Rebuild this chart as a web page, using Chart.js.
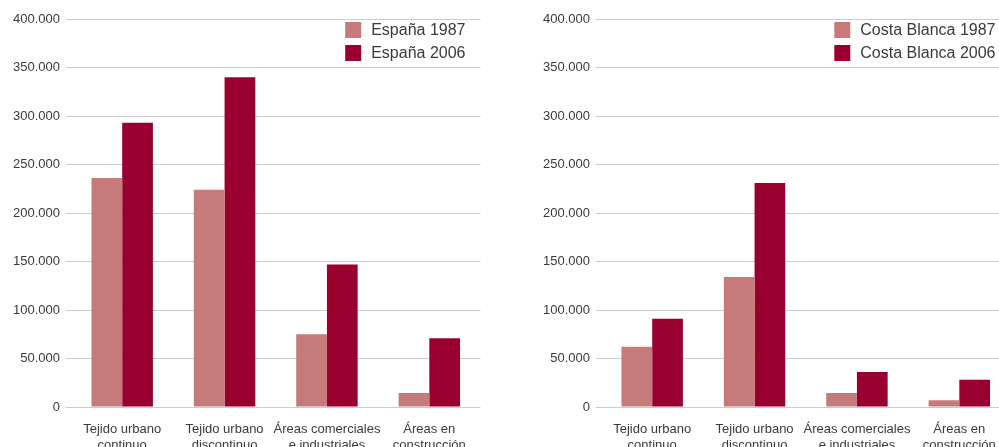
<!DOCTYPE html>
<html lang="es">
<head>
<meta charset="utf-8">
<script src="https://cdn.jsdelivr.net/npm/chart.js@4/dist/chart.umd.min.js"></script>
<style>
    html, body { margin: 0; padding: 0; background: #fff; overflow: hidden; }
    body { width: 999px; height: 447px; position: relative; }
    .panel { position: absolute; top: 0; width: 490px; height: 447px; }
    #panelEspana { left: 0; }
    #panelCosta { left: 530px; }
</style>
</head>
<body>
<div class="panel" id="panelEspana"><canvas id="chartEspana"></canvas></div>
<div class="panel" id="panelCosta"><canvas id="chartCosta"></canvas></div>
<script>
// Categorías (etiquetas del eje X, en dos líneas)
const categorias = [
    ['Tejido urbano', 'continuo'],
    ['Tejido urbano', 'discontinuo'],
    ['Áreas comerciales', 'e industriales'],
    ['Áreas en', 'construcción']
];

// Valores
const espana1987 = [236000, 224000, 75000, 14500];
const espana2006 = [293000, 340000, 147000, 71000];
const costa1987 = [62000, 134000, 14500, 7000];
const costa2006 = [91000, 231000, 36000, 28000];

// Escala del eje Y
const ejeMin = 0;
const ejeMax = 400000;
const ejePaso = 50000;

const color1987 = '#C67B7A';
const color2006 = '#990030';
const colorTexto = '#3a3a3a';
const fuente = '"Liberation Sans", Arial, sans-serif';

// Leyenda dibujada dentro del área del gráfico, arriba a la derecha
const leyendaInterna = {
    id: 'leyendaInterna',
    afterDraw(chart) {
        const ctx = chart.ctx;
        const area = chart.chartArea;
        const sets = chart.data.datasets;
        ctx.save();
        ctx.font = '16px ' + fuente;
        let maxAncho = 0;
        sets.forEach(function(ds) {
            maxAncho = Math.max(maxAncho, ctx.measureText(ds.label).width);
        });
        const x = area.right - 15 - maxAncho - 26;
        sets.forEach(function(ds, i) {
            const y = 22 + i * 23;
            ctx.fillStyle = ds.backgroundColor;
            ctx.fillRect(x, y, 16, 16);
            ctx.fillStyle = colorTexto;
            ctx.textBaseline = 'middle';
            ctx.textAlign = 'left';
            ctx.fillText(ds.label, x + 26, y + 8.5);
        });
        ctx.restore();
    }
};

function crearGrafico(idCanvas, etiqueta1987, datos1987, etiqueta2006, datos2006) {
    const ctx = document.getElementById(idCanvas).getContext('2d');
    return new Chart(ctx, {
        type: 'bar',
        data: {
            labels: categorias,
            datasets: [{
                label: etiqueta1987,
                data: datos1987,
                backgroundColor: color1987,
                borderWidth: 0
            }, {
                label: etiqueta2006,
                data: datos2006,
                backgroundColor: color2006,
                borderWidth: 0
            }]
        },
        options: {
            responsive: true,
            maintainAspectRatio: false,
            animation: false,
            layout: {
                padding: { top: 19, right: 9.5, bottom: 0, left: 0 }
            },
            datasets: {
                bar: {
                    categoryPercentage: 0.6,
                    barPercentage: 1.0
                }
            },
            plugins: {
                legend: { display: false },
                tooltip: { enabled: false }
            },
            scales: {
                x: {
                    grid: { display: false },
                    border: { display: false },
                    ticks: {
                        color: colorTexto,
                        font: { family: fuente, size: 13 },
                        padding: 7,
                        maxRotation: 0,
                        autoSkip: false
                    },
                    afterFit: function(scale) { scale.height = 40; }
                },
                y: {
                    min: ejeMin,
                    max: ejeMax,
                    border: { display: false },
                    grid: {
                        color: '#cccccc',
                        lineWidth: 1,
                        drawTicks: true,
                        tickLength: 5,
                        tickColor: '#cccccc'
                    },
                    ticks: {
                        stepSize: ejePaso,
                        color: colorTexto,
                        font: { family: fuente, size: 13 },
                        padding: 6,
                        callback: function(v) {
                            return v.toLocaleString('de-DE');
                        }
                    },
                    afterFit: function(scale) { scale.width = 71; }
                }
            }
        },
        plugins: [leyendaInterna]
    });
}

crearGrafico('chartEspana', 'España 1987', espana1987, 'España 2006', espana2006);
crearGrafico('chartCosta', 'Costa Blanca 1987', costa1987, 'Costa Blanca 2006', costa2006);
</script>
</body>
</html>
